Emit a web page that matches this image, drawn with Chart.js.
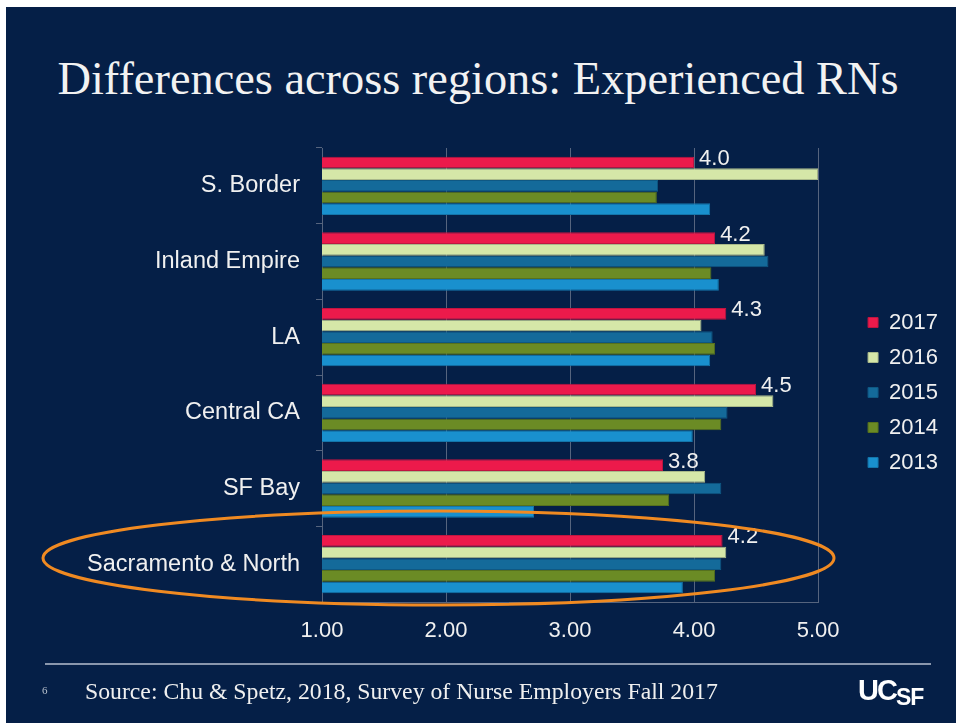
<!DOCTYPE html>
<html>
<head>
<meta charset="utf-8">
<script src="https://cdn.jsdelivr.net/npm/chart.js@4/dist/chart.umd.min.js"></script>
<style>
  html, body { margin: 0; padding: 0; }
  body { width: 956px; height: 723px; background: #ffffff; position: relative; overflow: hidden; }
  #slide { position: absolute; left: 6px; top: 7px; right: 0; bottom: 0; background: #051f47; }
  #chartWrap { position: absolute; left: 0; top: 0; width: 956px; height: 723px; }
  #title { position: absolute; left: 0; top: 0; width: 956px; text-align: center; color: #f2f2f2;
           font-family: "Liberation Serif", "DejaVu Serif", serif; white-space: nowrap; }
  #rule { position: absolute; left: 45px; top: 663px; width: 886px; height: 2px; background: #8a97ad; }
  #pageno { position: absolute; left: 42px; top: 684px; color: #b8c0cc; font: 11px "Liberation Serif", serif; }
  #source { position: absolute; left: 85px; top: 678px; color: #f0f0f0; font-family: "Liberation Serif", serif; white-space: nowrap; }
  #logo { position: absolute; left: 858px; top: 674px; color: #ffffff; font-family: "Liberation Sans", Arial, sans-serif; font-weight: bold; white-space: nowrap; }
  #logo .uc { font-size: 29px; letter-spacing: -2px; }
  #logo .sf { font-size: 23px; letter-spacing: -1px; position: relative; top: 5px; }
  svg#oval { position: absolute; left: 0; top: 0; pointer-events: none; }
</style>
</head>
<body>
<div id="slide"></div>
<div id="title">Differences across regions: Experienced RNs</div>
<div id="chartWrap"><canvas id="c" width="956" height="723"></canvas></div>
<svg id="oval" width="956" height="723"><ellipse cx="438.5" cy="558" rx="395.5" ry="47" fill="none" stroke="#f08a22" stroke-width="3"/></svg>
<div id="rule"></div>
<div id="pageno">6</div>
<div id="source">Source: Chu &amp; Spetz, 2018, Survey of Nurse Employers Fall 2017</div>
<div id="logo"><span class="uc">UC</span><span class="sf">SF</span></div>
<script>
// ---- data ----
const categories = ['S. Border', 'Inland Empire', 'LA', 'Central CA', 'SF Bay', 'Sacramento & North'];
const years = ['2017', '2016', '2015', '2014', '2013'];
const v2017 = [4.00, 4.17, 4.26, 4.50, 3.75, 4.23];
const v2016 = [5.00, 4.57, 4.06, 4.64, 4.09, 4.26];
const v2015 = [3.71, 4.60, 4.15, 4.27, 4.22, 4.22];
const v2014 = [3.70, 4.14, 4.17, 4.22, 3.80, 4.17];
const v2013 = [4.13, 4.20, 4.13, 3.99, 2.71, 3.91];
const labels2017 = ['4.0', '4.2', '4.3', '4.5', '3.8', '4.2'];
const xTicks = [1, 2, 3, 4, 5];

// ---- fit text widths ----
function fitFont(el, family, targetWidth, weight) {
  const cv = document.createElement('canvas').getContext('2d');
  cv.font = (weight || '') + ' 40px ' + family;
  const w = cv.measureText(el.textContent).width;
  el.style.fontSize = (40 * targetWidth / w).toFixed(2) + 'px';
}
const titleEl = document.getElementById('title');
fitFont(titleEl, '"Liberation Serif"', 841);
titleEl.style.top = '52px';
fitFont(document.getElementById('source'), '"Liberation Serif"', 633);

const seriesValues = [v2017, v2016, v2015, v2014, v2013];
const fills = ['#ec1a4b', '#d5e7a8', '#146a9a', '#6b8b25', '#1990ce'];
const edges = ['#c01540', '#a9b98a', '#0f5883', '#56711e', '#1475aa'];

const textColor = '#f0f0f0';
const gridColor = '#56647e';
const font22 = { family: '"Liberation Sans", Arial, sans-serif', size: 22 };
const fontCat = { family: '"Liberation Sans", Arial, sans-serif', size: 23.5 };

const valueLabels = {
  id: 'valueLabels',
  afterDatasetsDraw(chart) {
    const ctx = chart.ctx;
    const meta = chart.getDatasetMeta(0);
    ctx.save();
    ctx.fillStyle = textColor;
    ctx.font = '22px "Liberation Sans", Arial, sans-serif';
    ctx.textAlign = 'left';
    ctx.textBaseline = 'alphabetic';
    meta.data.forEach((el, i) => {
      ctx.fillText(labels2017[i], el.x + 5, el.y + 2.5);
    });
    ctx.restore();
  }
};

// nudge the legend block so its items sit where the reference puts them
const legendNudge = {
  id: 'legendNudge',
  afterLayout(chart) {
    if (chart.legend) { chart.legend.top -= 4; chart.legend.bottom -= 4; }
  }
};

new Chart(document.getElementById('c'), {
  type: 'bar',
  data: {
    labels: categories,
    datasets: years.map((y, i) => ({
      label: y,
      data: seriesValues[i],
      backgroundColor: fills[i],
      borderColor: edges[i],
      borderWidth: 1,
      categoryPercentage: 0.77,
      barPercentage: 1.0
    }))
  },
  options: {
    indexAxis: 'y',
    responsive: false,
    animation: false,
    devicePixelRatio: 1,
    layout: { padding: { top: 148, bottom: 78, left: 0, right: 8 } },
    scales: {
      x: {
        min: 1, max: 5,
        afterBuildTicks(scale) { scale.ticks = xTicks.map(v => ({ value: v })); },
        ticks: { color: textColor, font: font22, padding: 16, callback: v => Number(v).toFixed(2) },
        grid: { color: gridColor, drawTicks: false, lineWidth: 1 },
        border: { color: gridColor },
        afterFit(scale) { scale.height = 43; }
      },
      y: {
        ticks: { color: textColor, font: fontCat, padding: 16 },
        grid: { color: gridColor, drawOnChartArea: false, drawTicks: true, tickLength: 6, offset: true },
        border: { color: gridColor },
        afterFit(scale) { scale.width = 322; }
      },
      gap: {
        type: 'category', axis: 'y', position: 'right', labels: categories,
        ticks: { display: false }, grid: { display: false }, border: { display: false },
        afterFit(scale) { scale.width = 37; }
      }
    },
    plugins: {
      legend: {
        position: 'right',
        align: 'center',
        labels: { color: textColor, font: font22, boxWidth: 10, boxHeight: 10, padding: 13 }
      },
      tooltip: { enabled: false }
    }
  },
  plugins: [valueLabels, legendNudge]
});
</script>
</body>
</html>
